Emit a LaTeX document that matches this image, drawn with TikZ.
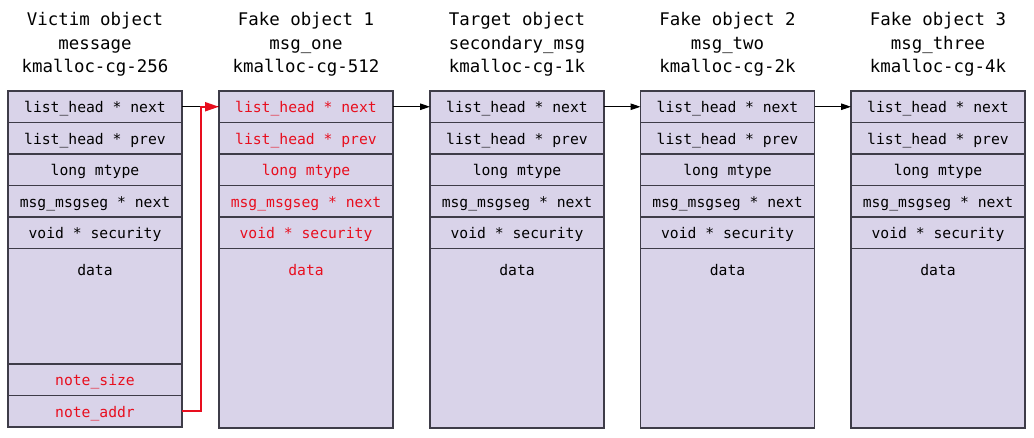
\documentclass[tikz,border=0pt]{standalone}
\usepackage{fontspec}
\setmonofont{DejaVu Sans Mono}
\usepackage{tikz}
\usetikzlibrary{
	arrows.meta,
	positioning
}

\definecolor{cajafondo}{RGB}{217,211,233}
\definecolor{cajaborde}{RGB}{62,60,72}
\definecolor{rojo}{RGB}{232,14,30}

\def\W{174}
\def\H{31.5}
\def\campofont{\ttfamily\fontsize{14.7}{16}\selectfont}

\tikzset{
	campo/.style = {
		draw = cajaborde, fill = cajafondo, line width = 1.3pt,
		minimum width = \W pt, minimum height = \H pt,
		inner sep = 0pt, outer sep = 0pt,
		font = \campofont, text height = 12pt, text depth = 0pt
	},
	etiqueta/.style = {
		inner sep = 0pt, font = \campofont,
		text height = 12pt, text depth = 0pt
	},
	titulo/.style = {
		align = center, inner sep = 0pt, anchor = north,
		font = \ttfamily\fontsize{17.4}{23.5}\selectfont
	},
	enlace/.style = {
		line width = 1pt, -{Triangle[length = 10pt, width = 6.5pt]}
	},
	puntero/.style = {
		rojo, line width = 2pt,
		-{Triangle[length = 14pt, width = 9pt]}
	}
}

\begin{document}
\begin{tikzpicture}[x = 1pt, y = -1pt]

	% márgenes del dibujo
	\useasboundingbox (0,0) rectangle (1034,437);

	% objetos msg_msg
	\foreach \c/\x/\col/\hd/\ta/\tb/\tc in {
		v/8/black/115.5/Victim object/message/kmalloc-cg-256,
		f1/219/rojo/179.5/Fake object 1/msg\_one/kmalloc-cg-512,
		t/430/black/179.5/Target object/secondary\_msg/kmalloc-cg-1k,
		f2/640.5/black/179.5/Fake object 2/msg\_two/kmalloc-cg-2k,
		f3/851/black/179.5/Fake object 3/msg\_three/kmalloc-cg-4k%
	}{
		% cabecera
		\node[titulo] (\c-tit) at (\x + 87, 12.5) {\ta\\\tb\\\tc};

		% campos
		\node[campo, anchor = north west, text = \col] (\c-next)
			at (\x, 91) {list\_head * next};
		\node[campo, below = 0pt of \c-next, text = \col] (\c-prev)
			{list\_head * prev};
		\node[campo, below = 0pt of \c-prev, text = \col] (\c-mtype)
			{long mtype};
		\node[campo, below = 0pt of \c-mtype, text = \col] (\c-seg)
			{msg\_msgseg * next};
		\node[campo, below = 0pt of \c-seg, text = \col] (\c-sec)
			{void * security};
		\node[campo, below = 0pt of \c-sec, minimum height = \hd pt] (\c-data) {};
		\node[etiqueta, text = \col] (\c-dtxt)
			at ([yshift = -21pt]\c-data.north) {data};
	}

	% campos extra del objeto víctima
	\node[campo, below = 0pt of v-data, text = rojo] (v-size) {note\_size};
	\node[campo, below = 0pt of v-size, text = rojo] (v-addr) {note\_addr};

	% lista enlazada
	\draw[line width = 1pt] (v-next) -- (f1-next);
	\foreach \a/\b in {f1/t, t/f2, f2/f3}
		\draw[enlace] (\a-next) -- (\b-next);

	% puntero corrompido
	\draw[puntero] (v-addr.east) -- ++(18.5,0) |- (f1-next.west);

\end{tikzpicture}
\end{document}
